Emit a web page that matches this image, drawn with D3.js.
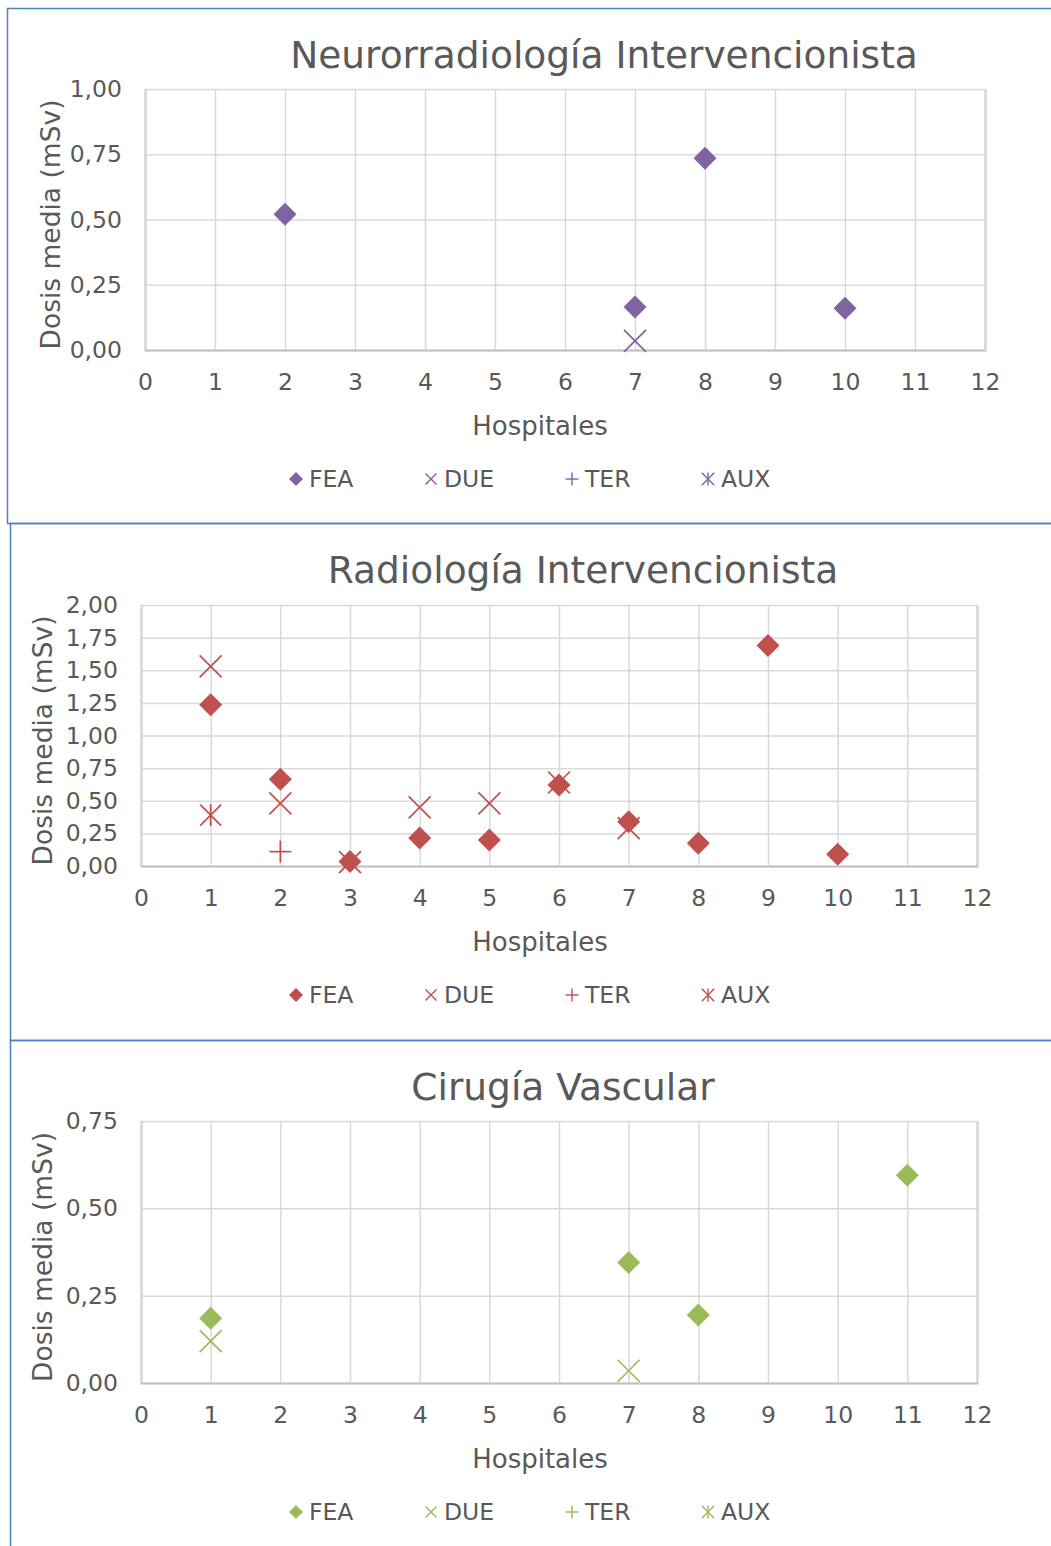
<!DOCTYPE html>
<html>
<head>
<meta charset="utf-8">
<script src="https://cdn.jsdelivr.net/npm/d3@7"></script>
<style>
  body { margin: 0; background: #fff; }
  svg text { font-family: "DejaVu Sans", Verdana, sans-serif; fill: #595959; }
</style>
</head>
<body>
<div id="chart"></div>
<script>
// Dosis media por hospital, tres servicios

const hospitalTicks = [0, 1, 2, 3, 4, 5, 6, 7, 8, 9, 10, 11, 12];
const seriesNames = ["FEA", "DUE", "TER", "AUX"];

const titles = ["Neurorradiología Intervencionista", "Radiología Intervencionista", "Cirugía Vascular"];
const colors = ["#8064A2", "#C0504D", "#9BBB59"];
const yTicks = [
    [0, 0.25, 0.5, 0.75, 1],
    [0, 0.25, 0.5, 0.75, 1, 1.25, 1.5, 1.75, 2],
    [0, 0.25, 0.5, 0.75]
];

// [hospital, dosis]
const neuroFEA = [[2, 0.52], [7, 0.165], [8, 0.735], [10, 0.16]];
const neuroDUE = [[7, 0.035]];
const neuroTER = [];
const neuroAUX = [];

const radioFEA = [[1, 1.235], [2, 0.665], [3, 0.035], [4, 0.215], [5, 0.2], [6, 0.62], [7, 0.34], [8, 0.175], [9, 1.69], [10, 0.09]];
const radioDUE = [[1, 1.53], [2, 0.48], [3, 0.03], [4, 0.45], [5, 0.48], [6, 0.64], [7, 0.29]];
const radioTER = [[2, 0.11]];
const radioAUX = [[1, 0.39]];

const vascFEA = [[1, 0.185], [7, 0.345], [8, 0.195], [11, 0.595]];
const vascDUE = [[1, 0.12], [7, 0.035]];
const vascTER = [];
const vascAUX = [];

const panelData = [
    [neuroFEA, neuroDUE, neuroTER, neuroAUX],
    [radioFEA, radioDUE, radioTER, radioAUX],
    [vascFEA, vascDUE, vascTER, vascAUX]
];

// layout of each panel (pixels)
const panels = [
    {top: 8, left: 7, plot: {x0: 145, x1: 985, y0: 89, y1: 350}, titleX: 604, ylabX: 50},
    {top: 523, left: 10, plot: {x0: 141, x1: 977, y0: 605, y1: 866}, titleX: 583, ylabX: 42},
    {top: 1040, left: 10, plot: {x0: 141, x1: 977, y0: 1121, y1: 1383}, titleX: 563, ylabX: 42}
];
const panelBottoms = [523, 1040, 1560];

const width = 1051, height = 1546;
const es = d3.formatLocale({decimal: ",", thousands: ".", grouping: [3], currency: ["", "€"]});
const fmt = es.format(".2f");

const svg = d3.select("#chart").append("svg")
    .attr("width", width)
    .attr("height", height);

// marker shapes
function drawMarker(g, type, cx, cy, r, color) {
    if (type === "FEA") {
        g.append("path")
            .attr("d", `M${cx},${cy - r}L${cx + r},${cy}L${cx},${cy + r}L${cx - r},${cy}Z`)
            .attr("fill", color);
        return;
    }
    const s = type === "DUE" ? r : r * 0.95;
    const segs = [];
    if (type === "DUE" || type === "AUX") {
        segs.push([cx - s, cy - s, cx + s, cy + s], [cx - s, cy + s, cx + s, cy - s]);
    }
    if (type === "TER") {
        segs.push([cx - r, cy, cx + r, cy], [cx, cy - r, cx, cy + r]);
    }
    if (type === "AUX") {
        segs.push([cx, cy - r, cx, cy + r]);
    }
    segs.forEach(d => {
        g.append("line")
            .attr("x1", d[0]).attr("y1", d[1])
            .attr("x2", d[2]).attr("y2", d[3])
            .attr("stroke", color)
            .attr("stroke-width", r > 8 ? 1.7 : 1.4);
    });
}

panels.forEach((p, i) => {
    const color = colors[i];
    const ticks = yTicks[i];

    // panel frame
    svg.append("rect")
        .attr("x", p.left + 0.5)
        .attr("y", p.top + 0.5)
        .attr("width", 1200)
        .attr("height", panelBottoms[i] - p.top)
        .attr("fill", "none")
        .attr("stroke", "#4F81BD")
        .attr("stroke-width", 1.5);

    const x = d3.scaleLinear()
        .domain([hospitalTicks[0], hospitalTicks[hospitalTicks.length - 1]])
        .range([p.plot.x0, p.plot.x1]);
    const y = d3.scaleLinear()
        .domain([0, ticks[ticks.length - 1]])
        .range([p.plot.y1, p.plot.y0]);
    const h = p.plot.y1 - p.plot.y0;
    const w = p.plot.x1 - p.plot.x0;

    // horizontal grid + y labels
    const yAxis = svg.append("g")
        .attr("transform", `translate(${p.plot.x0},0)`)
        .call(d3.axisLeft(y).tickValues(ticks).tickFormat(fmt).tickSize(-w).tickPadding(23));
    yAxis.select(".domain").remove();
    yAxis.selectAll("line").attr("stroke", "#D9D9D9").attr("stroke-width", 1.5);
    yAxis.selectAll("text").style("font-size", "23.5px").attr("fill", "#595959");

    // vertical grid + x labels
    const xAxis = svg.append("g")
        .attr("transform", `translate(0,${p.plot.y1})`)
        .call(d3.axisBottom(x).tickValues(hospitalTicks).tickFormat(d3.format("d")).tickSize(-h).tickPadding(23));
    xAxis.select(".domain").attr("stroke", "#BFBFBF").attr("stroke-width", 2);
    xAxis.selectAll(".tick line").attr("stroke", "#D9D9D9").attr("stroke-width", 1.5);
    xAxis.selectAll("text").style("font-size", "23.5px").attr("fill", "#595959");

    // title
    svg.append("text")
        .attr("x", p.titleX)
        .attr("y", p.top + 46)
        .attr("dy", "0.36em")
        .attr("text-anchor", "middle")
        .style("font-size", "37.5px")
        .text(titles[i]);

    // axis titles
    svg.append("text")
        .attr("x", 540)
        .attr("y", p.plot.y1 + 76)
        .attr("dy", "0.36em")
        .attr("text-anchor", "middle")
        .style("font-size", "26px")
        .text("Hospitales");

    svg.append("text")
        .attr("transform", `translate(${p.ylabX},${(p.plot.y0 + p.plot.y1) / 2 + 5}) rotate(-90)`)
        .attr("dy", "0.36em")
        .attr("text-anchor", "middle")
        .style("font-size", "26.5px")
        .text("Dosis media (mSv)");

    // points
    const marks = svg.append("g");
    panelData[i].forEach((pts, s) => {
        pts.forEach(d => {
            drawMarker(marks, seriesNames[s], x(d[0]), y(d[1]), s === 0 ? 11.5 : 11, color);
        });
    });

    // legend
    const legY = p.plot.y1 + 129;
    const legX = [296, 431, 572, 708];
    seriesNames.forEach((name, s) => {
        const lg = svg.append("g");
        drawMarker(lg, name, legX[s], legY, s === 0 ? 7 : (name === "DUE" ? 5.5 : 6.5), color);
        lg.append("text")
            .attr("x", legX[s] + 13)
            .attr("y", legY)
            .attr("dy", "0.36em")
            .style("font-size", "23.5px")
            .text(name);
    });
});
</script>
</body>
</html>
